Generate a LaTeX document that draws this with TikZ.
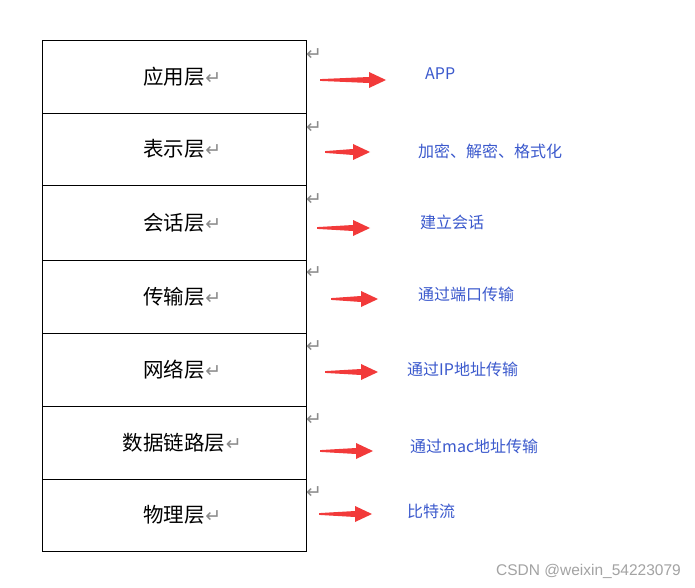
\documentclass[tikz,border=0pt]{standalone}
\usepackage{fontspec}
\setmainfont{Noto Sans CJK SC}
\newfontfamily\symfont{DejaVu Sans}
\newfontfamily\wmfont{Liberation Sans}
\definecolor{lblue}{RGB}{59,89,205}
\definecolor{ared}{RGB}{242,58,58}
\definecolor{mkgray}{RGB}{140,140,140}
\newcommand{\parmk}{\rlap{\hspace{0.5pt}\textcolor{mkgray}{\symfont\fontsize{19}{19}\selectfont ↵}}}
\tikzset{
  layer/.style={draw=black, line width=0.9pt, anchor=north west, minimum width=264pt,
    inner sep=0pt, outer sep=0pt, font=\fontsize{20.5}{20.5}\selectfont},
  pmark/.style={text=mkgray, font=\symfont\fontsize{19}{19}\selectfont, inner sep=0pt},
  desc/.style={text=lblue, anchor=west, inner sep=0pt, font=\fontsize{16}{16}\selectfont},
  rarrow/.pic={\fill[ared] (0,-0.9) -- (#1-17,-3) -- (#1-17,-8) -- (#1,0) -- (#1-17,8) -- (#1-17,3) -- (0,0.9) -- cycle;},
}
\begin{document}
\begin{tikzpicture}[x=1pt,y=-1pt]
\useasboundingbox[fill=white] (0,0) rectangle (695,588);
% layers
\node[layer, minimum height=73pt] (l1) at (42,40) {应用层\parmk};
\node[layer, minimum height=72pt] (l2) at (42,113) {表示层\parmk};
\node[layer, minimum height=75pt] (l3) at (42,185) {会话层\parmk};
\node[layer, minimum height=73pt] (l4) at (42,260) {传输层\parmk};
\node[layer, minimum height=73pt] (l5) at (42,333) {网络层\parmk};
\node[layer, minimum height=73pt] (l6) at (42,406) {数据链路层\parmk};
\node[layer, minimum height=72pt] (l7) at (42,479) {物理层\parmk};
% paragraph marks
\node[pmark] (m1) at (314,55) {↵};
\node[pmark] (m2) at (314,128) {↵};
\node[pmark] (m3) at (314,200) {↵};
\node[pmark] (m4) at (314,273) {↵};
\node[pmark] (m5) at (314,347) {↵};
\node[pmark] (m6) at (314,420) {↵};
\node[pmark] (m7) at (314,493) {↵};
% arrows
\pic at (320,80) {rarrow=66};
\pic at (325,152) {rarrow=45};
\pic at (317,228) {rarrow=53};
\pic at (331,299) {rarrow=47};
\pic at (325,372) {rarrow=53};
\pic at (320,451) {rarrow=53};
\pic at (319,514) {rarrow=53};
% descriptions
\node[desc] (d1) at (425,74) {APP};
\node[desc] (d2) at (418,151) {加密、解密、格式化};
\node[desc] (d3) at (420,222) {建立会话};
\node[desc] (d4) at (418,294) {通过端口传输};
\node[desc] (d5) at (407,369) {通过IP地址传输};
\node[desc] (d6) at (410,446) {通过mac地址传输};
\node[desc] (d7) at (407,511) {比特流};
% watermark
\node[anchor=east, text=mkgray!80, inner sep=0pt, font=\wmfont\fontsize{15.5}{15.5}\selectfont] (wm) at (681,571) {CSDN @weixin\_54223079};
\end{tikzpicture}
\end{document}
